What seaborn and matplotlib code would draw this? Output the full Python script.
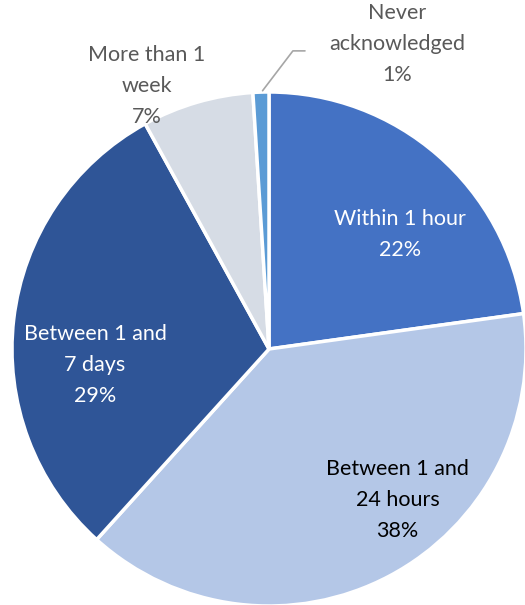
import matplotlib
matplotlib.use("Agg")
import matplotlib.pyplot as plt
import seaborn as sns

# response time to acknowledge
categories = ["Within 1 hour", "Between 1 and\n24 hours", "Between 1 and\n7 days",
              "More than 1\nweek", "Never\nacknowledged"]
shares = [22.8, 38.9, 30.3, 7.0, 1.0]
pct_labels = ["22%", "38%", "29%", "7%", "1%"]
colors = ["#4472C4", "#B4C7E7", "#2F5597", "#D6DCE5", "#5B9BD5"]

sns.set_theme(style="white")
plt.rcParams["font.family"] = ["Lato", "DejaVu Sans"]

fig = plt.figure(figsize=(5.25, 6.05), dpi=100)
# pie box: center (269,349) px, radius 257 px
ax = fig.add_axes([12 / 525, (605 - 606) / 605, 514 / 525, 514 / 605])

wedges, _ = ax.pie(shares, colors=colors, startangle=90, counterclock=False,
                   radius=1.0, wedgeprops=dict(edgecolor="white", linewidth=2.5))
ax.set_xlim(-1, 1)
ax.set_ylim(-1, 1)
ax.set_aspect("equal")
ax.axis("off")

# label positions in data units (radius = 1)
label_pos = [(0.51, 0.444), (0.50, -0.588), (-0.677, -0.062), (-0.475, 1.023), (0.50, 1.187)]
text_colors = ["white", "black", "white", "#595959", "#595959"]

for cat, pct, (x, y), tc in zip(categories, pct_labels, label_pos, text_colors):
    ax.text(x, y, f"{cat}\n{pct}", ha="center", va="center", fontsize=15.5,
            color=tc, linespacing=1.68, clip_on=False)

# leader line for the tiny slice
ax.plot([-0.025, 0.093, 0.14], [1.005, 1.16, 1.16], color="#A6A6A6", lw=1.2, clip_on=False)

fig.savefig("out.png", dpi=100)
